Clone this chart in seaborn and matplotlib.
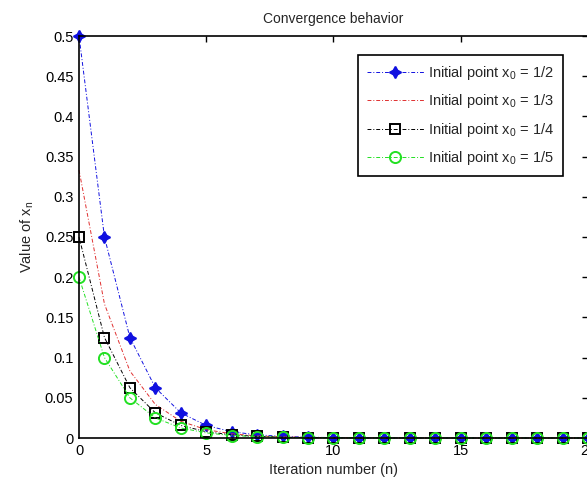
import matplotlib
matplotlib.use("Agg")
import matplotlib.pyplot as plt
import seaborn as sns
import pandas as pd

n_iter = list(range(21))
x_half = [0.5, 0.25, 0.125, 0.0625, 0.03125, 0.0156, 0.0078, 0.0039, 0.002, 0.001,
          0.0005, 0.0002, 0.0001, 0.0001, 0.0, 0.0, 0.0, 0.0, 0.0, 0.0, 0.0]
x_third = [0.3333, 0.1667, 0.0833, 0.0417, 0.0208, 0.0104, 0.0052, 0.0026, 0.0013, 0.0007,
           0.0003, 0.0002, 0.0001, 0.0, 0.0, 0.0, 0.0, 0.0, 0.0, 0.0, 0.0]
x_quarter = [0.25, 0.125, 0.0625, 0.0313, 0.0156, 0.0078, 0.0039, 0.002, 0.001, 0.0005,
             0.0002, 0.0001, 0.0001, 0.0, 0.0, 0.0, 0.0, 0.0, 0.0, 0.0, 0.0]
x_fifth = [0.2, 0.1, 0.05, 0.025, 0.0125, 0.0063, 0.0031, 0.0016, 0.0008, 0.0004,
           0.0002, 0.0001, 0.0, 0.0, 0.0, 0.0, 0.0, 0.0, 0.0, 0.0, 0.0]
labels = [r"Initial point x$_{\rm 0}$ = 1/2", r"Initial point x$_{\rm 0}$ = 1/3",
          r"Initial point x$_{\rm 0}$ = 1/4", r"Initial point x$_{\rm 0}$ = 1/5"]
x_ticks = [0, 5, 10, 15, 20]
y_ticks = [0, 0.05, 0.1, 0.15, 0.2, 0.25, 0.3, 0.35, 0.4, 0.45, 0.5]
y_ticklabels = ["0", "0.05", "0.1", "0.15", "0.2", "0.25", "0.3", "0.35", "0.4", "0.45", "0.5"]

sns.set_style("white")
plt.rcParams["font.family"] = ["Liberation Sans", "DejaVu Sans"]
plt.rcParams["mathtext.fontset"] = "custom"
plt.rcParams["mathtext.rm"] = "Liberation Sans"
plt.rcParams["mathtext.it"] = "Liberation Sans"

fig = plt.figure(figsize=(5.87, 4.78), dpi=100)
ax = fig.add_axes([79 / 587, 40 / 478, (588 - 79) / 587, (438 - 36) / 478])

styles = [
    dict(color="#1010e0", marker=(4, 1, 0), markersize=8.5, markeredgewidth=1.2,
         markerfacecolor="#1010e0", markeredgecolor="#1010e0"),
    dict(color="#e03030"),
    dict(color="black", marker="s", markersize=6.5, markerfacecolor="none",
         markeredgecolor="black", markeredgewidth=1.4),
    dict(color="#22e022", marker="o", markersize=8, markerfacecolor="none",
         markeredgecolor="#22e022", markeredgewidth=1.4),
]
series = [x_half, x_third, x_quarter, x_fifth]
for vals, lab, st in zip(series, labels, styles):
    df = pd.DataFrame({"n": n_iter, "x": vals})
    sns.lineplot(data=df, x="n", y="x", ax=ax, label=lab, linestyle=(0, (4, 2, 1, 2)),
                 linewidth=0.7, clip_on=False, **st)

ax.set_xlim(0, 20)
ax.set_ylim(0, 0.5)
ax.set_xticks(x_ticks)
ax.set_xticklabels([str(t) for t in x_ticks])
ax.set_yticks(y_ticks)
ax.set_yticklabels(y_ticklabels)
ax.tick_params(direction="in", length=4, width=1, top=True, right=True,
               labelsize=10.5, colors="black", pad=4)
for s in ax.spines.values():
    s.set_visible(True)
    s.set_color("black")
    s.set_linewidth(1.2)
ax.set_xlabel("Iteration number (n)", fontsize=10.5, labelpad=4)
ax.set_ylabel(r"Value of x$_{\rm n}$", fontsize=10.5, labelpad=6)
ax.set_title("Convergence behavior", fontsize=10, pad=9)

leg = ax.legend(loc="upper right", bbox_to_anchor=(0.951, 0.953), fontsize=10.5,
                handlelength=3.9, fancybox=False, framealpha=1, edgecolor="black",
                borderaxespad=0, labelspacing=0.72, handletextpad=0.3, borderpad=0.6)
leg.get_frame().set_linewidth(1.2)

fig.savefig("out.png", dpi=100)
